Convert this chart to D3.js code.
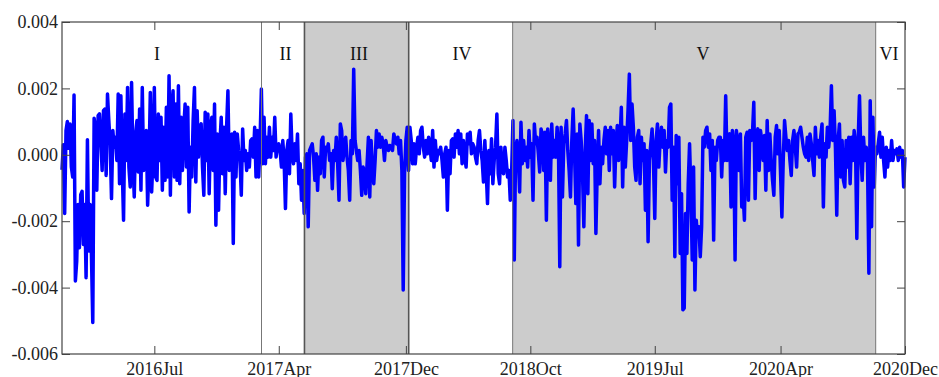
<!DOCTYPE html>
<html>
<head>
<meta charset="utf-8">
<script src="https://cdn.jsdelivr.net/npm/d3@7"></script>
<style>
	body { margin: 0; background: #fff; }
	text { font-family: 'Liberation Serif', 'Times New Roman', serif; }
	.tick text { font-size: 18px; fill: #222; }
	.tick line { stroke: #444; }
	.region-label { font-size: 18px; fill: #111; }
	.line-path { fill: none; stroke-linejoin: round; }
</style>
</head>
<body>
<svg width="939" height="377"></svg>
<script>
// daily values, in units of 1e-3, read left to right off the chart
const seriesPermille = [
	-0.45,0.3,-1.77,0.73,1.0,0.2,0.93,-0.37,-0.67,1.8,
	-3.8,-3.2,-1.5,-2.8,-1.2,-1.1,-2.7,-1.5,-3.7,0.45,
	-2.9,-1.5,-3.0,-5.05,1.1,0.8,-1.07,1.18,1.23,0.43,
	-0.47,1.33,1.38,-0.62,1.83,1.03,0.33,-1.32,0.73,0.23,
	0.53,-0.17,1.83,-0.87,1.78,-0.37,-1.97,1.23,-0.17,2.03,
	-0.37,-0.97,2.18,-0.17,-1.27,0.63,1.03,-0.52,1.38,-1.07,
	2.03,-0.47,0.63,0.73,-1.52,-0.27,1.88,-1.12,-0.07,2.03,
	-0.67,
	-0.77,1.23,-0.17,1.13,-1.07,0.83,-0.77,1.43,-0.67,2.38,
	-1.22,1.43,1.93,-0.67,1.53,-0.77,2.08,-0.87,1.13,-0.47,
	0.83,1.53,-0.37,1.43,-1.72,0.23,-0.67,1.03,2.03,-0.82,
	1.33,-0.07,0.83,0.93,-0.37,-1.22,1.28,-0.17,1.23,-1.17,
	0.83,1.13,-0.47,1.53,-2.12,0.63,-1.67,0.33,1.13,-0.57,
	0.83,-1.17,0.83,1.93,-0.47,0.03,0.63,-2.67,0.68,-0.67,
	0.63,0.13,-0.17,-1.22,0.78,-0.17,0.13,-0.47,0.03,-0.37,
	0.43,
	0.48,-0.07,0.83,-0.67,0.73,-0.67,0.43,1.98,-0.27,
	1.13,-0.27,0.53,-0.07,0.83,-0.07,0.53,0.13,1.13,-0.07,
	0.23,0.33,0.13,-0.37,0.43,-0.17,-1.62,0.13,0.43,-0.57,
	1.23,0.03,-0.27,0.33,-0.17,0.63,-0.87,-0.27,-1.37,-0.47,
	-1.77,-0.07,0.03,-2.17,0.13,0.23,0.33,-0.07,-0.77,0.03,
	-1.07,-0.07,-0.57,0.43,0.53,-0.67,0.23,0.13,0.33,-0.17,
	0.03,-1.02,0.13,-0.17,0.53,-0.27,-1.37,0.93,0.73,-0.17,
	0.23,
	0.53,-0.07,-0.47,-1.37,0.43,0.03,2.58,0.43,0.13,-0.17,
	0.13,-0.47,-1.22,-0.37,-0.47,-1.17,-0.27,0.53,-1.27,0.43,
	-0.47,-0.87,-0.17,0.73,0.23,0.63,0.23,0.53,0.33,-0.17,
	0.43,0.23,0.13,0.28,0.23,0.13,0.63,0.43,0.33,0.53,
	0.03,0.43,-0.47,-4.07,-0.57,0.43,0.83,-0.47,0.83,0.43,
	-0.27,0.33,-0.27,0.23,0.53,0.03,0.73,0.83,0.23,-0.07,
	0.43,0.03,0.53,0.23,-0.17,0.73,-0.37,0.43,-0.17,0.13,
	0.03,0.23,-0.17,-0.67,0.03,0.23,-1.67,0.13,-0.57,0.43,
	0.48,-0.07,0.63,0.23,0.73,0.03,0.63,-0.27,0.43,-0.07,
	-0.37,0.63,0.33,0.68,0.03,0.33,0.23,-0.07,-0.27,0.43,
	0.73,0.13,-0.17,-0.82,0.43,-0.47,-1.47,0.13,-0.57,0.48,
	-0.87,-0.17,0.23,1.23,-0.57,-0.87,0.23,-0.47,-0.57,0.23,
	-0.17,-0.67,-0.47,-1.37,-0.57,1.03,-3.17,0.13,0.43,-0.07,
	-1.12,0.98,-0.27,0.43,-0.17,0.23,-0.37,0.73,-0.07,0.33,
	-1.37,0.93,0.33,0.53,0.03,-0.52,0.78,0.63,-0.47,0.68,
	-1.97,0.78,0.23,-0.77,0.93,-0.07,0.43,-0.07,0.83,0.33,
	-3.37,0.83,-1.27,0.33,0.63,1.03,0.13,-0.47,-1.27,0.43,
	1.38,0.13,-1.47,0.63,-2.72,0.93,0.43,-0.57,-2.17,0.13,
	1.18,-1.17,1.03,-0.17,0.93,-0.27,0.43,-2.37,-0.47,0.73,
	-0.87,0.23,-0.27,0.43,0.83,0.03,0.73,-0.47,0.83,0.03,
	0.73,-0.97,0.33,0.88,-0.17,0.43,1.43,-0.97,0.83,-0.37,
	0.43,1.33,2.43,0.43,1.53,0.83,-0.37,-0.77,0.53,0.73,
	-0.87,0.53,-0.17,0.33,-1.67,0.13,-2.62,-0.17,0.33,0.78,
	-0.17,-1.92,0.43,0.93,-0.37,0.43,0.83,0.23,0.73,-0.52,
	0.43,0.23,1.43,1.53,-1.37,0.23,-3.07,0.58,-0.87,0.53,
	-2.97,-1.17,-4.67,-4.62,-1.77,-2.97,-0.87,0.33,-1.17,-3.17,
	-0.37,-4.07,-1.97,-2.47,-2.17,-3.07,-2.17,0.53,0.23,0.73,
	0.83,0.23,0.63,-0.47,0.43,-2.57,0.23,-0.17,0.43,0.53,
	0.53,-0.67,0.43,-0.17,1.78,-0.17,0.43,0.63,-1.57,0.73,
	0.33,-3.17,0.73,0.33,-0.47,0.63,-1.57,-1.17,-1.97,0.53,
	0.68,-1.37,0.73,0.43,0.63,1.58,-1.32,0.63,0.78,-0.47,
	0.73,0.43,-0.17,0.58,-1.07,1.03,-0.47,0.63,-0.17,-0.77,
	-1.22,0.53,0.88,0.03,0.73,-0.57,-1.87,-0.17,1.03,0.53,
	0.13,0.43,-0.17,-0.62,0.43,0.73,0.23,-0.37,0.63,0.68,
	0.83,0.53,0.23,0.03,-0.07,0.53,-0.17,0.63,0.33,-0.17,
	-0.62,0.83,0.03,0.43,-0.07,0.53,0.93,-1.57,0.33,-0.07,
	0.83,0.23,0.73,2.08,0.43,1.33,0.23,-1.82,0.43,0.93,
	-0.67,0.43,-0.77,-0.97,0.43,-0.37,0.53,-0.87,0.53,-0.17,
	0.73,0.33,-2.52,0.43,1.78,0.03,-0.77,0.53,-0.17,0.23,
	-0.27,-3.57,1.63,-2.17,1.13,-0.97,0.23,0.03,0.33,0.68,
	-0.07,0.53,-0.17,-0.67,0.23,-0.37,0.13,-0.17,0.43,-0.17,
	0.13,0.03,0.18,-0.17,0.23,-0.07,0.13,-0.97,-0.07
];

// x axis is observation index
const tickIndex = [69, 162, 257, 350, 443, 537, 630];
const tickLabels = ['2016Jul', '2017Apr', '2017Dec', '2018Oct', '2019Jul', '2020Apr', '2020Dec'];

const yTicks = [-0.006, -0.004, -0.002, 0, 0.002, 0.004];

// regimes: start / end index, label, shaded or not
const regionNames = ['I', 'II', 'III', 'IV', 'V', 'VI'];
const regionStart = [0, 149.1, 181.2, 259.1, 336.8, 608.1];
const regionEnd = [149.1, 181.2, 259.1, 336.8, 608.1, 630];
const regionShaded = [false, false, true, false, true, false];
const regionLabelAt = [71, 167, 222, 299, 479, 618];

const svg = d3.select('svg');
const width = +svg.attr('width');
const height = +svg.attr('height');

const render = data => {
	const margin = {top: 22, right: 34, bottom: 23, left: 62};
	const innerWidth = width - margin.left - margin.right;
	const innerHeight = height - margin.top - margin.bottom;

	const xScale = d3.scaleLinear()
		.domain([0, data.length - 1])
		.range([0, innerWidth]);

	const yScale = d3.scaleLinear()
		.domain([-0.006, 0.004])
		.range([innerHeight, 0]);

	const g = svg.append('g')
		.attr('transform', `translate(${margin.left}, ${margin.top})`);

	const regions = regionNames.map((name, i) => ({
		name,
		start: regionStart[i],
		end: regionEnd[i],
		shaded: regionShaded[i],
		labelAt: regionLabelAt[i]
	}));

	g.selectAll('.shade')
		.data(regions.filter(r => r.shaded))
		.enter().append('rect')
		.attr('class', 'shade')
		.attr('x', d => xScale(d.start))
		.attr('y', 0)
		.attr('width', d => xScale(d.end) - xScale(d.start))
		.attr('height', innerHeight)
		.attr('fill', '#cccccc');

	const lineGenerator = d3.line()
		.x((d, i) => xScale(i))
		.y(d => yScale(d));

	g.append('path')
		.attr('class', 'line-path')
		.attr('d', lineGenerator(data))
		.attr('stroke', '#0000ff')
		.attr('stroke-width', 3.5);

	// regime boundaries drawn over the series
	g.selectAll('.boundary')
		.data(regions.slice(1))
		.enter().append('line')
		.attr('class', 'boundary')
		.attr('x1', d => xScale(d.start))
		.attr('x2', d => xScale(d.start))
		.attr('y1', 0)
		.attr('y2', innerHeight)
		.attr('stroke', d => (d.name === 'III' || d.name === 'IV') ? '#555' : '#777')
		.attr('stroke-width', d => (d.name === 'III' || d.name === 'IV') ? 1.6 : 1);

	g.selectAll('.region-label')
		.data(regions)
		.enter().append('text')
		.attr('class', 'region-label')
		.attr('x', d => xScale(d.labelAt))
		.attr('y', 38)
		.attr('text-anchor', 'middle')
		.text(d => d.name);

	const xAxis = d3.axisBottom(xScale)
		.tickValues(tickIndex)
		.tickFormat((d, i) => tickLabels[i])
		.tickSize(-8)
		.tickPadding(7);

	const xAxisTop = d3.axisTop(xScale)
		.tickValues(tickIndex)
		.tickFormat('')
		.tickSize(-8);

	const yAxis = d3.axisLeft(yScale)
		.tickValues(yTicks)
		.tickFormat(d => d.toFixed(3))
		.tickSize(-8)
		.tickPadding(4);

	const yAxisRight = d3.axisRight(yScale)
		.tickValues(yTicks)
		.tickFormat('')
		.tickSize(-8);

	const xAxisG = g.append('g').call(xAxis)
		.attr('transform', `translate(0, ${innerHeight})`);
	g.append('g').call(xAxisTop);
	g.append('g').call(yAxis);
	g.append('g').call(yAxisRight)
		.attr('transform', `translate(${innerWidth}, 0)`);

	g.selectAll('.domain').remove();
	xAxisG.selectAll('text').attr('dy', '0.75em');

	g.append('rect')
		.attr('x', 0)
		.attr('y', 0)
		.attr('width', innerWidth)
		.attr('height', innerHeight)
		.attr('fill', 'none')
		.attr('stroke', '#444')
		.attr('stroke-width', 1.2);
};

render(seriesPermille.map(v => v / 1000));
</script>
</body>
</html>
